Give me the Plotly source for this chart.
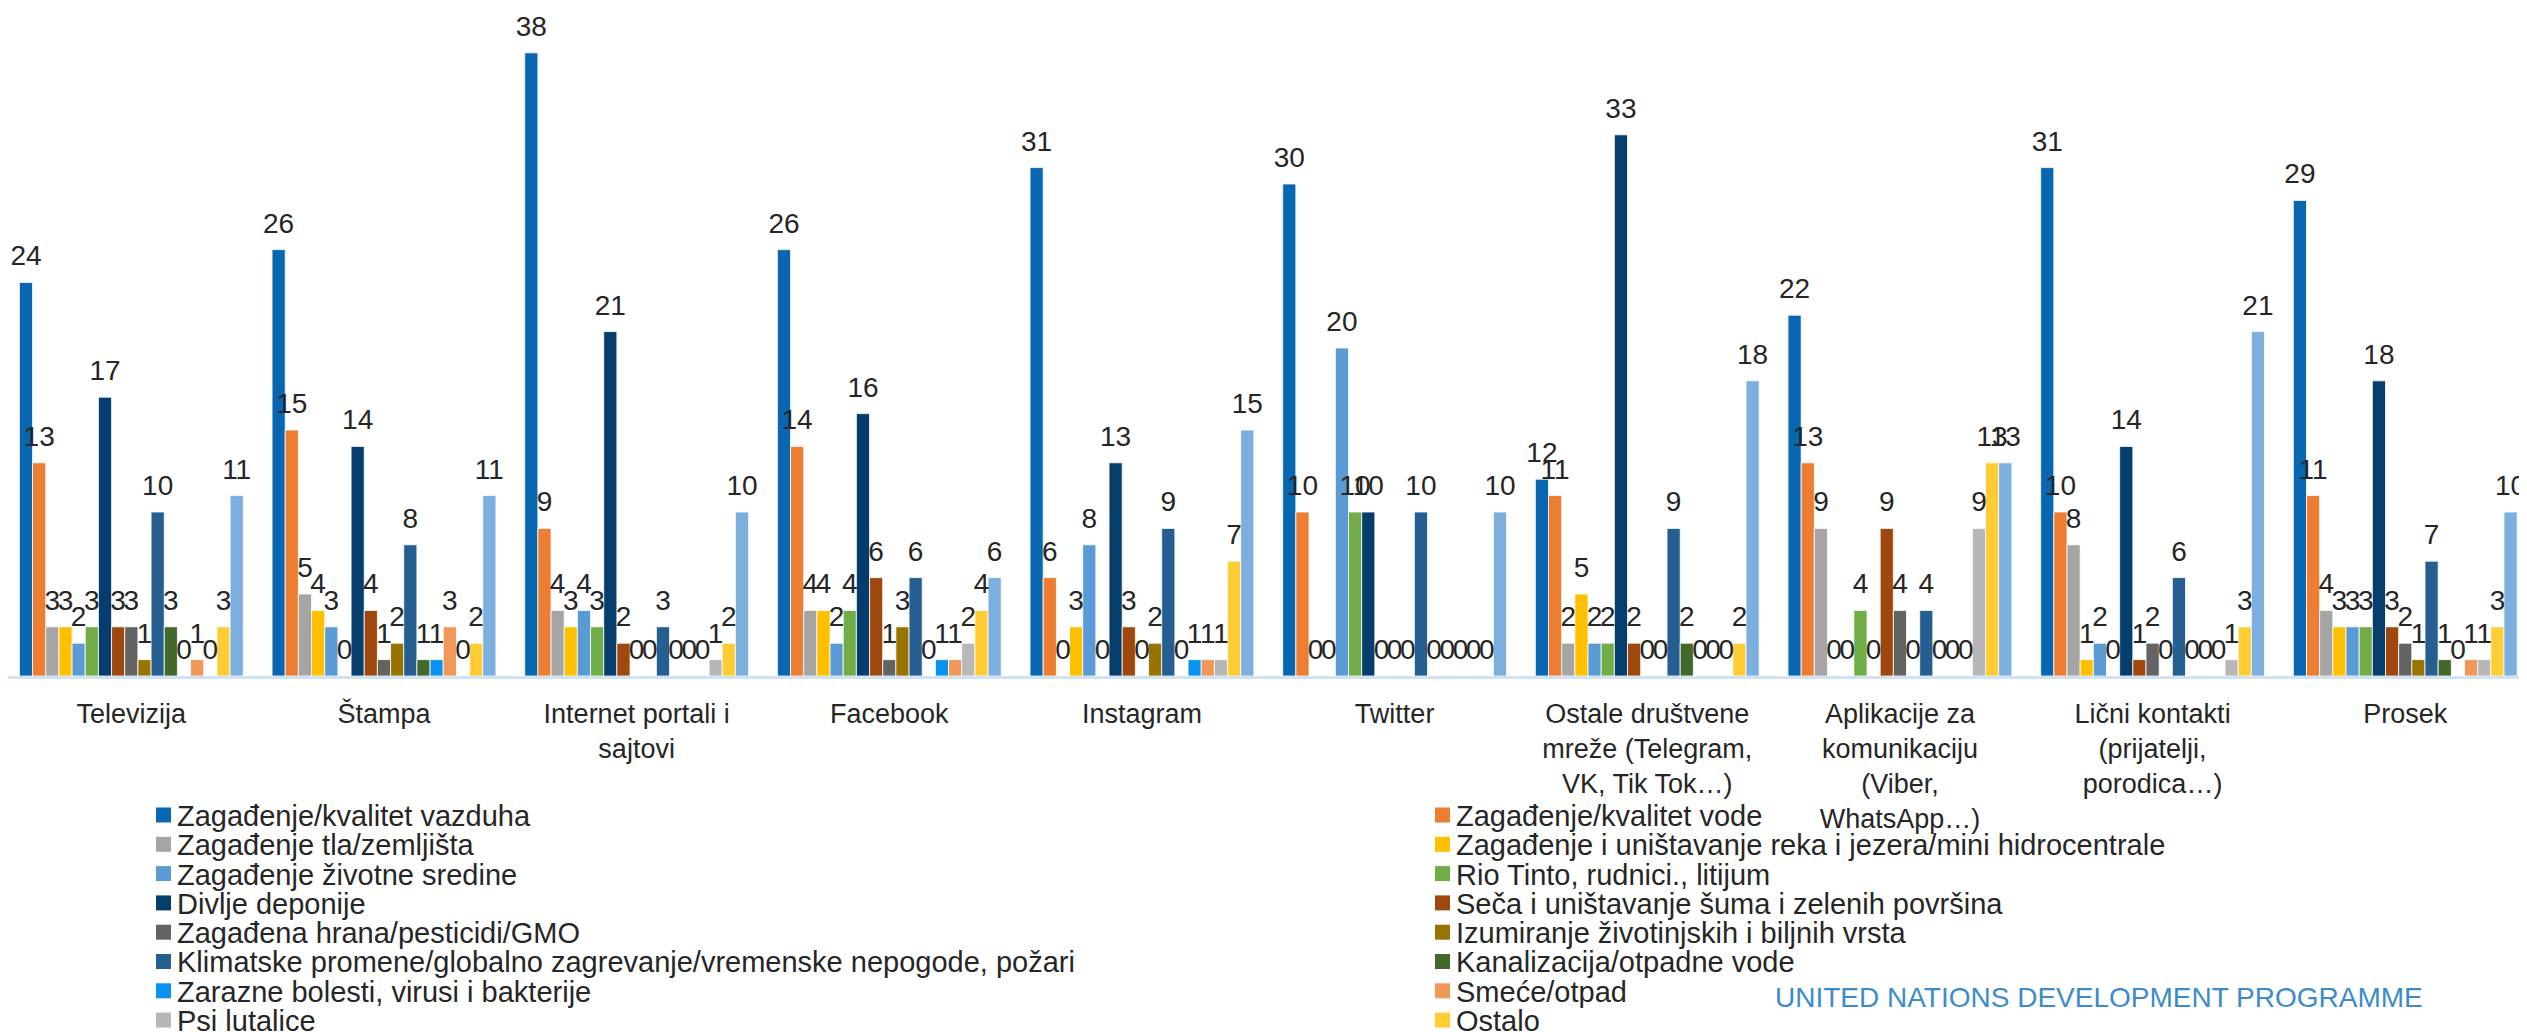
import plotly.graph_objects as go

# The page body has a default 8px margin, so the figure is drawn 8px in from
# the top-left corner of the window; size it to fill the remaining area.
OFF = 8
W, H = 2527 - OFF, 1032 - OFF
ML, MR, MT, MB = 0, 0, 0, 356

categories = [
    "Televizija", "Štampa", "Internet portali i<br>sajtovi", "Facebook", "Instagram", "Twitter",
    "Ostale društvene<br>mreže (Telegram,<br>VK, Tik Tok…)",
    "Aplikacije za<br>komunikaciju<br>(Viber,<br>WhatsApp…)",
    "Lični kontakti<br>(prijatelji,<br>porodica…)", "Prosek",
]

series_names = [
    "Zagađenje/kvalitet vazduha",
    "Zagađenje/kvalitet vode",
    "Zagađenje tla/zemljišta",
    "Zagađenje i uništavanje reka i jezera/mini hidrocentrale",
    "Zagađenje životne sredine",
    "Rio Tinto, rudnici., litijum",
    "Divlje deponije",
    "Seča i uništavanje šuma i zelenih površina",
    "Zagađena hrana/pesticidi/GMO",
    "Izumiranje životinjskih i biljnih vrsta",
    "Klimatske promene/globalno zagrevanje/vremenske nepogode, požari",
    "Kanalizacija/otpadne vode",
    "Zarazne bolesti, virusi i bakterije",
    "Smeće/otpad",
    "Psi lutalice",
    "Ostalo",
    "Ne zna / bez odgovora",
]

vazduh = [24, 26, 38, 26, 31, 30, 12, 22, 31, 29]
voda = [13, 15, 9, 14, 6, 10, 11, 13, 10, 11]
tlo = [3, 5, 4, 4, 0, 0, 2, 9, 8, 4]
reke = [3, 4, 3, 4, 3, 0, 5, 0, 1, 3]
sredina = [2, 3, 4, 2, 8, 20, 2, 0, 2, 3]
rio_tinto = [3, 0, 3, 4, 0, 10, 2, 4, 0, 3]
deponije = [17, 14, 21, 16, 13, 10, 33, 0, 14, 18]
seca = [3, 4, 2, 6, 3, 0, 2, 9, 1, 3]
hrana = [3, 1, 0, 1, 0, 0, 0, 4, 2, 2]
izumiranje = [1, 2, 0, 3, 2, 0, 0, 0, 0, 1]
klima = [10, 8, 3, 6, 9, 10, 9, 4, 6, 7]
kanalizacija = [3, 1, 0, 0, 0, 0, 2, 0, 0, 1]
zarazne = [0, 1, 0, 1, 1, 0, 0, 0, 0, 0]
smece = [1, 3, 0, 1, 1, 0, 0, 0, 0, 1]
psi = [0, 0, 1, 2, 1, 0, 0, 9, 1, 1]
ostalo = [3, 2, 2, 4, 7, 0, 2, 13, 3, 3]
ne_zna = [11, 11, 10, 6, 15, 10, 18, 13, 21, 10]

series_values = [vazduh, voda, tlo, reke, sredina, rio_tinto, deponije, seca, hrana,
                 izumiranje, klima, kanalizacija, zarazne, smece, psi, ostalo, ne_zna]

colors = ["#0967B1", "#ED7D31", "#A5A5A5", "#FFC000", "#5B9BD5", "#70AD47",
          "#053E6D", "#9E480E", "#636363", "#997300", "#255E91", "#43682B",
          "#0A93EE", "#F1975A", "#B7B7B7", "#FFCD33", "#7CAFDD"]

FONT = "Liberation Sans, Arial, sans-serif"
TXT = "#262626"
GAP = 0.114

fig = go.Figure()
for name, vals, col in zip(series_names, series_values, colors):
    fig.add_trace(go.Bar(
        x=categories, y=vals, name=name, showlegend=False,
        marker=dict(color=col, line=dict(color="white", width=0.8)),
        hoverinfo="skip",
    ))
# value labels, grouped the same way as the bars
for name, vals in zip(series_names, series_values):
    fig.add_trace(go.Scatter(
        x=categories, y=vals, name=name, showlegend=False, mode="markers+text",
        marker=dict(size=14.4, opacity=0, color="white"),
        text=[str(v) for v in vals], textposition="top center",
        textfont=dict(size=28, color=TXT, family=FONT),
        cliponaxis=False, hoverinfo="skip",
    ))

pw = W - ML - MR
ph = H - MT - MB

def px_x(rx):
    return (rx - OFF - ML) / pw

def px_y(ry):
    return (H - MB - (ry - OFF)) / ph

shapes = []
annotations = []
for i, (name, col) in enumerate(zip(series_names[:16], colors[:16])):
    c, r = i % 2, i // 2
    sx = 156 if c == 0 else 1435
    cy = 815 + r * 29.3
    shapes.append(dict(type="rect", xref="paper", yref="paper",
                       x0=px_x(sx), x1=px_x(sx + 15), y0=px_y(cy + 7.5), y1=px_y(cy - 7.5),
                       fillcolor=col, line=dict(width=0)))
    annotations.append(dict(xref="paper", yref="paper", x=px_x(sx + 19), y=px_y(cy + 1),
                            text=name, showarrow=False, xanchor="left", yanchor="middle",
                            font=dict(size=29, color=TXT, family=FONT)))

annotations.append(dict(xref="paper", yref="paper", x=px_x(1773), y=px_y(997),
                        text="UNITED NATIONS DEVELOPMENT PROGRAMME", showarrow=False,
                        xanchor="left", yanchor="middle",
                        font=dict(size=28, color="#3D8BCB", family=FONT)))

base_px = H - MB
unit = pw / 9.97
shift = 3 / unit
fig.update_layout(
    width=W, height=H,
    margin=dict(l=ML, r=MR, t=MT, b=MB, pad=0),
    barmode="group", bargap=GAP, bargroupgap=0,
    scattermode="group", scattergap=GAP,
    plot_bgcolor="white", paper_bgcolor="white",
    font=dict(family=FONT, color=TXT),
    showlegend=False,
    shapes=shapes, annotations=annotations,
    xaxis=dict(type="category", range=[-0.5 + shift, 9.47 + shift], showline=True,
               linecolor="#D0E3F4", linewidth=2.5, ticks="", showgrid=False, zeroline=False,
               ticklabelstandoff=12,
               tickfont=dict(size=27, color=TXT, family=FONT)),
    yaxis=dict(range=[0, base_px / 16.4], visible=False, showgrid=False, zeroline=False),
)

fig.write_html("out.html")
